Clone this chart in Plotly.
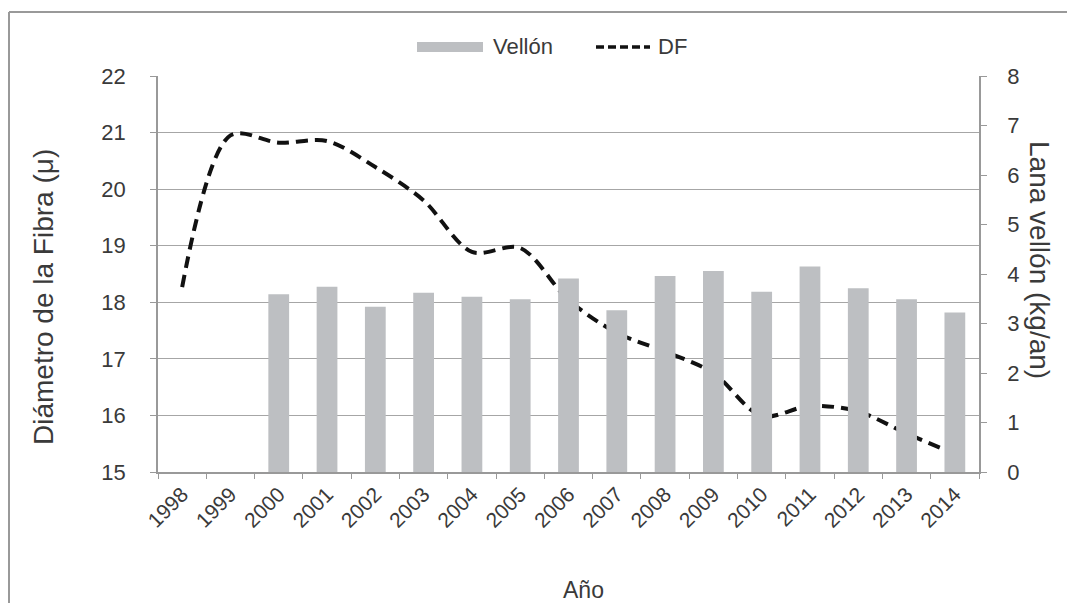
import plotly.graph_objects as go

years = [str(y) for y in range(1998, 2015)]
vellon_years = [str(y) for y in range(2000, 2015)]
vellon = [3.59, 3.74, 3.34, 3.62, 3.54, 3.49, 3.91, 3.27, 3.96, 4.06, 3.64, 4.15, 3.71, 3.49, 3.22]
df_vals = [18.27, 20.95, 20.82, 20.85, 20.39, 19.80, 18.89, 18.96, 18.04, 17.46, 17.13, 16.75, 15.99, 16.17, 16.07, 15.68, 15.32]

OFF = 8  # page body margin
W, H = 1075 - 2 * OFF, 611 - 2 * OFF
L, T = 158 - OFF, 76 - OFF
pw, ph = 821, 396
R, B = W - L - pw, H - T - ph

def px(x):
    return (x - OFF - L) / pw

def py(y):
    return (T + ph - (y - OFF)) / ph

font = "Liberation Sans, Arial, sans-serif"
txt = "#3a3a3a"
grid = "#a6a6a6"
axc = "#999999"

fig = go.Figure()
fig.add_trace(go.Bar(x=vellon_years, y=vellon, name="Vellón", yaxis="y2",
                     marker=dict(color="#bdbfc2", line=dict(width=0)), width=0.43))
fig.add_trace(go.Scatter(x=years, y=df_vals, name="DF", mode="lines",
                         line=dict(color="#111111", width=4, dash="12px,7px", shape="spline", smoothing=0.9)))

fig.update_layout(
    width=W, height=H,
    margin=dict(l=L, r=R, t=T, b=B),
    paper_bgcolor="white", plot_bgcolor="white",
    showlegend=False,
    font=dict(family=font, color=txt),
    xaxis=dict(type="category", categoryorder="array", categoryarray=years,
               tickangle=-45, tickfont=dict(size=21, color=txt),
               showline=True, linecolor=axc, linewidth=1.5,
               ticks="outside", ticklen=5, tickcolor=axc, tickson="boundaries",
               showgrid=False, range=[-0.5, 16.5]),
    yaxis=dict(range=[15, 22], dtick=1, tickfont=dict(size=22, color=txt),
               showgrid=True, gridcolor=grid, gridwidth=1.2,
               showline=True, linecolor=axc, linewidth=1.5,
               ticks="outside", ticklen=6, tickcolor=axc,
               ticklabelstandoff=20, zeroline=False),
    yaxis2=dict(range=[0, 8], dtick=1, overlaying="y", side="right",
                tickfont=dict(size=22, color=txt), showgrid=False,
                showline=True, linecolor=axc, linewidth=1.5,
                ticks="outside", ticklen=6, tickcolor=axc,
                ticklabelstandoff=16, zeroline=False),
)

annos = [
    dict(text="Diámetro de la Fibra (μ)", x=px(43), y=py(297), textangle=-90,
         font=dict(size=28, color=txt)),
    dict(text="Lana vellón (kg/an)", x=px(1040), y=py(260), textangle=90,
         font=dict(size=28, color=txt)),
    dict(text="Año", x=px(583), y=py(590), font=dict(size=23, color=txt)),
    dict(text="Vellón", x=px(491), y=py(47), xanchor="left", font=dict(size=22, color=txt)),
    dict(text="DF", x=px(656), y=py(47), xanchor="left", font=dict(size=22, color=txt)),
]
for a in annos:
    a.update(xref="paper", yref="paper", showarrow=False)
    a.setdefault("xanchor", "center")
    a["yanchor"] = "middle"
    fig.add_annotation(**a)

shapes = [
    dict(type="rect", x0=px(417), x1=px(483), y0=py(52), y1=py(42),
         fillcolor="#bdbfc2", line=dict(width=0)),
    dict(type="line", x0=px(596), x1=px(650), y0=py(47), y1=py(47),
         line=dict(color="#111111", width=3.5, dash="8px,4px")),
    dict(type="line", x0=px(9), x1=px(9), y0=py(12), y1=py(620),
         line=dict(color="#999999", width=2)),
    dict(type="line", x0=px(9), x1=px(1080), y0=py(12), y1=py(12),
         line=dict(color="#999999", width=2)),
]
for s in shapes:
    s.update(xref="paper", yref="paper")
    fig.add_shape(**s)

fig.write_html("out.html")
